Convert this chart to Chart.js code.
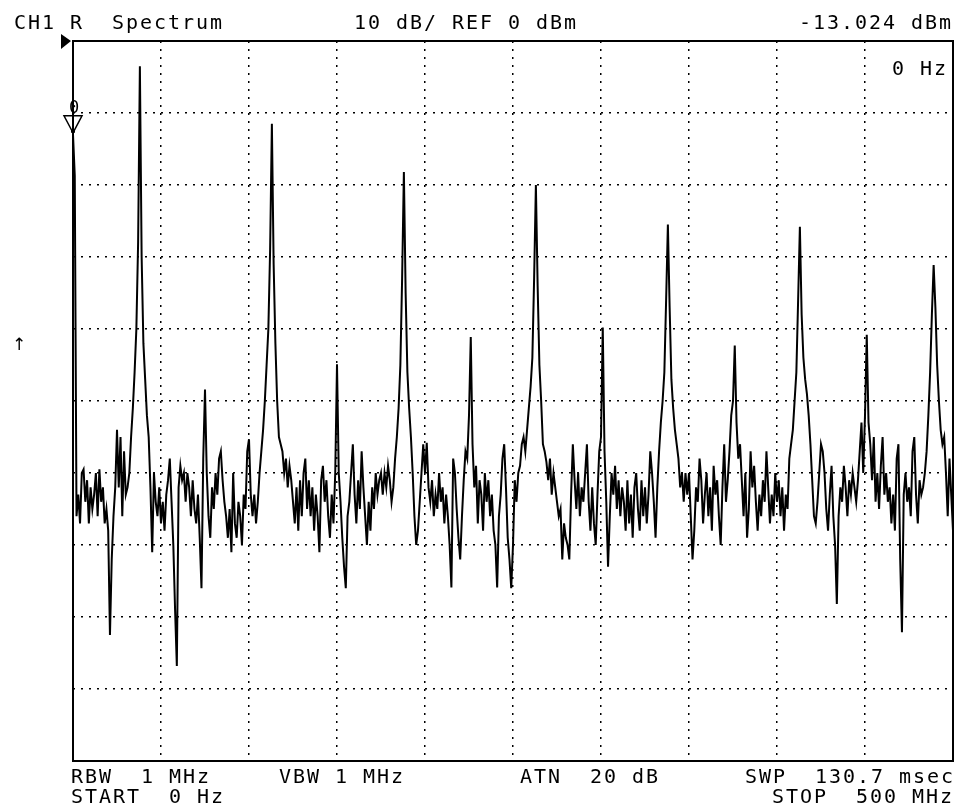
<!DOCTYPE html>
<html>
<head>
<meta charset="utf-8">
<title>CH1 R Spectrum</title>
<script src="https://cdn.jsdelivr.net/npm/chart.js@4.4.1/dist/chart.umd.min.js"></script>
<style>
  body { margin: 0; background: #fff; }
  #wrap { position: relative; width: 958px; height: 809px; }
  #myChart { position: absolute; left: 0; top: 0; }
  .t { position: absolute; font: 20px "DejaVu Sans Mono", monospace; letter-spacing: 1.96px;
       line-height: 20px; white-space: pre; color: #000; }
</style>
</head>
<body>
<div id="wrap">
  <canvas id="myChart" width="958" height="809"></canvas>
  <div class="t" style="left:14px;top:12px">CH1 R  Spectrum</div>
  <div class="t" style="left:354px;top:12px">10 dB/ REF 0 dBm</div>
  <div class="t" style="left:799px;top:12px">-13.024 dBm</div>
  <div class="t" style="left:892px;top:58px">0 Hz</div>
  <div class="t" style="left:12px;top:334px;font-family:'DejaVu Sans';font-size:17px;letter-spacing:0">↑</div>
  <div class="t" style="left:71px;top:766px">RBW  1 MHz</div>
  <div class="t" style="left:279px;top:766px">VBW 1 MHz</div>
  <div class="t" style="left:520px;top:766px">ATN  20 dB</div>
  <div class="t" style="left:745px;top:766px">SWP  130.7 msec</div>
  <div class="t" style="left:71px;top:786px">START  0 Hz</div>
  <div class="t" style="left:772px;top:786px">STOP  500 MHz</div>
</div>
<script>
// sweep settings (MHz) and level settings (dBm)
var startMHz = 0;
var stopMHz = 500;
var refLevel = 0;
var dbPerDiv = 10;
var divisions = 10;
var markerFreq = 0;
var markerLevel = -13.024;

// trace, 501 points, 1 MHz apart
var traceDbm = [
  -13.0, -18.7, -66, -63, -67, -60, -59.5, -64, -61, -67, -62, -65, -63, -60, -66, -59.5, -64, -62, -67, -65, -68, -82.5, -72, -66, -62,
  -54, -62, -55, -66, -57, -63, -62, -60, -55, -51, -46, -40, -28, -3.5, -30, -42, -47, -52, -55, -62, -71, -60, -64, -66, -62,
  -67, -64, -68, -63, -61, -58, -64, -70, -79, -86.8, -62, -59, -61, -60, -64, -60, -62, -66, -61, -65, -67, -63, -69, -76, -58,
  -48.4, -60, -66, -69, -62, -65, -60, -63, -58, -57, -61, -64, -66, -69, -65, -71, -60, -67, -69, -64, -66, -70, -63, -65, -57,
  -55.3, -63, -66, -63, -67, -64, -60, -57, -54, -50, -45, -40, -29, -11.5, -31, -42, -50, -55, -56, -57, -60, -58, -62, -59, -61,
  -64, -67, -62, -68, -61, -66, -60, -58, -65, -61, -66, -62, -68, -63, -66, -71, -61, -59, -64, -61, -66, -69, -63, -67, -60,
  -44.9, -60, -64, -69, -73, -76, -66, -64, -60, -56, -63, -67, -61, -65, -57, -62, -66, -70, -64, -68, -62, -65, -60, -63, -61,
  -60, -63, -60, -62, -59, -61, -64, -62, -58, -55, -51, -45, -33, -18.2, -35, -46, -51, -55, -60, -66, -70, -68, -64, -60, -56,
  -60, -55.8, -62, -64, -61, -66, -63, -65, -60, -64, -62, -67, -63, -66, -70, -75.9, -58, -60, -65, -69, -72, -66, -61, -57, -58,
  -52, -41.1, -56, -62, -59, -67, -61, -63, -68, -60, -64, -61, -66, -63, -68, -70, -75.9, -66, -63, -58, -56, -62, -69, -72, -76,
  -70, -61, -64, -60, -59, -56, -55, -57, -54, -51, -48, -44, -33, -20, -34, -45, -50, -56, -57, -58.5, -61, -58, -63, -60, -62,
  -64, -66, -65, -72, -67, -69, -70, -72, -63, -56, -61, -65, -60, -66, -62, -64, -60, -56, -64, -68, -62, -67, -70, -63, -57,
  -55, -39.8, -57, -64, -73, -66, -60, -63, -59, -65, -61, -66, -62, -64, -68, -61, -67, -63, -69, -62, -60, -65, -68, -61, -66,
  -62, -67, -63, -57, -60, -64, -69, -62, -57, -53, -50, -46, -36, -25.5, -37, -47, -51, -54, -56, -58, -62, -60, -64, -60, -63,
  -60, -66, -72, -68, -62, -64, -58, -61, -67, -63, -60, -66, -62, -68, -59, -63, -61, -66, -70, -62, -56, -64, -61, -57, -52,
  -50, -42.3, -53, -58, -56, -61, -66, -60, -69, -65, -57, -62, -59, -64, -68, -63, -66, -61, -64, -57, -62, -67, -63, -66, -60,
  -64, -61, -66, -62, -68, -63, -65, -58, -56, -54, -50, -46, -36, -25.8, -38, -44, -47, -49, -52, -56, -61, -66, -67, -64, -60,
  -56, -57, -60, -65, -68, -63, -59, -66, -70, -78.2, -66, -62, -64, -59, -62, -66, -61, -63, -60, -62, -64, -61, -57, -53, -60,
  -52, -40.8, -53, -56, -61, -55, -64, -60, -65, -59, -55, -63, -60, -64, -62, -67, -63, -68, -58, -56, -72, -82.1, -63, -60, -64,
  -62, -66, -57, -55, -63, -67, -61, -63, -62, -60, -57, -52, -46, -38, -31.1, -37, -45, -50, -54, -56, -55, -60, -66, -58, -63, -68
];

// frequency of each trace point
var freqMHz = [];
for (var i = 0; i < traceDbm.length; i++) {
  freqMHz[i] = startMHz + i * (stopMHz - startMHz) / (traceDbm.length - 1);
}
var points = freqMHz.map(function (f, i) { return { x: f, y: traceDbm[i] }; });

// frame, reference level arrow and marker 0
var screenPlugin = {
  id: 'screen',
  afterDatasetsDraw: function (chart) {
    var ctx = chart.ctx, a = chart.chartArea;
    var xs = chart.scales.x, ys = chart.scales.y;
    ctx.save();
    ctx.strokeStyle = '#000';
    ctx.fillStyle = '#000';
    ctx.lineWidth = 2;
    ctx.strokeRect(a.left, a.top, a.right - a.left, a.bottom - a.top);

    var yRef = ys.getPixelForValue(refLevel);
    ctx.beginPath();
    ctx.moveTo(a.left - 12, yRef - 7);
    ctx.lineTo(a.left - 2, yRef);
    ctx.lineTo(a.left - 12, yRef + 8);
    ctx.closePath();
    ctx.fill();

    var mx = xs.getPixelForValue(markerFreq), my = ys.getPixelForValue(markerLevel);
    ctx.lineWidth = 1.5;
    ctx.beginPath();
    ctx.moveTo(mx, my - 2);
    ctx.lineTo(mx - 9, my - 19);
    ctx.lineTo(mx + 9, my - 19);
    ctx.closePath();
    ctx.stroke();
    ctx.fillRect(mx - 2, my - 5, 4, 3);
    ctx.font = '17px "DejaVu Sans Mono"';
    ctx.textAlign = 'center';
    ctx.fillText('0', mx + 1, my - 22);
    ctx.restore();
  }
};

var ctx = document.getElementById('myChart').getContext('2d');
var chart = new Chart(ctx, {
  type: 'line',
  data: {
    datasets: [{
      label: 'CH1 R Spectrum',
      data: points,
      borderColor: '#000',
      borderWidth: 2,
      pointRadius: 0,
      tension: 0,
      fill: false
    }]
  },
  options: {
    responsive: false,
    animation: false,
    devicePixelRatio: 1,
    layout: { padding: { left: 73, top: 41, right: 5, bottom: 48 } },
    plugins: { legend: { display: false }, tooltip: { enabled: false } },
    scales: {
      x: {
        type: 'linear',
        min: startMHz,
        max: stopMHz,
        ticks: { display: false, stepSize: (stopMHz - startMHz) / divisions },
        grid: { color: '#000', lineWidth: 1.5, drawTicks: false },
        border: { display: false, dash: [2, 6] }
      },
      y: {
        min: refLevel - dbPerDiv * divisions,
        max: refLevel,
        ticks: { display: false, stepSize: dbPerDiv },
        grid: { color: '#000', lineWidth: 1.5, drawTicks: false },
        border: { display: false, dash: [2, 6] }
      }
    }
  },
  plugins: [screenPlugin]
});
</script>
</body>
</html>
